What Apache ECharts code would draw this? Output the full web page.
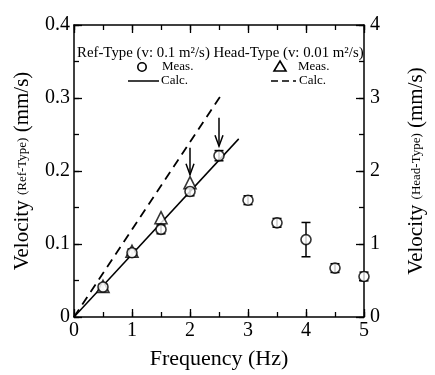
<!DOCTYPE html>
<html>
<head>
<meta charset="utf-8">
<script src="https://cdn.jsdelivr.net/npm/echarts@6/dist/echarts.min.js"></script>
<style>
html,body{margin:0;padding:0;background:#fff;}
#c{width:435px;height:375px;}
</style>
</head>
<body>
<div id="c"></div>
<script>
// Ref-Type measured velocity (left axis, mm/s) with error half-widths
const freq = [0.5, 1, 1.5, 2, 2.5, 3, 3.5, 4, 4.5, 5];
const refVel = [0.041, 0.088, 0.120, 0.172, 0.221, 0.160, 0.129, 0.106, 0.067, 0.0555];
const refErr = [0.004, 0.005, 0.006, 0.006, 0.007, 0.006, 0.006, 0.0235, 0.006, 0.006];

// Head-Type measured velocity (right axis, mm/s)
const headFreq = [0.5, 1, 1.5, 2];
const headVel = [0.42, 0.90, 1.36, 1.84];

// Calculated lines
const refCalc = [[0, 0], [2.84, 0.244]];
const headCalc = [[0, 0], [2.52, 3.02]];

// Arrows marking the measured points (left-axis units)
const arrowX = [2, 2.5];
const arrowFrom = [0.232, 0.273];
const arrowTo = [0.195, 0.234];

// Axis tick labels
const xTicks = [0, 1, 2, 3, 4, 5];
const yLeftTicks = [0, 0.1, 0.2, 0.3, 0.4];
const yRightTicks = [0, 1, 2, 3, 4];

const FONT = '"Liberation Serif", "DejaVu Serif", serif';
const chart = echarts.init(document.getElementById('c'), null, {renderer: 'canvas'});

const errData = freq.map((f, i) => [f, refVel[i] - refErr[i], refVel[i] + refErr[i]]);
const arrowData = arrowX.map((x, i) => [x, arrowFrom[i], arrowTo[i]]);

const axisLine = {onZero: false, lineStyle: {color: '#000', width: 1.5}};
const majorTick = {inside: true, length: 8, lineStyle: {color: '#000', width: 1.3}};
const minorTickAx = {inside: true, length: 5, lineStyle: {color: '#000', width: 1.3}};

// Overlay axis that only draws the short inward ticks between labelled ones
function minorAxis(position, min, max, interval) {
  return {
    type: 'value', min: min, max: max, interval: interval, position: position,
    axisLine: {show: false, onZero: false}, axisTick: minorTickAx, axisLabel: {show: false},
    splitLine: {show: false}
  };
}

const yNameRich = {
  a: {fontFamily: FONT, fontSize: 21, color: '#000'},
  b: {fontFamily: FONT, fontSize: 13, color: '#000'}
};

const option = {
  animation: false,
  backgroundColor: '#fff',
  grid: {left: 74, right: 66, top: 25, bottom: 57, containLabel: false},
  xAxis: [{
    type: 'value', min: 0, max: 5, interval: 1, position: 'bottom',
    axisLine: axisLine, axisTick: majorTick, splitLine: {show: false},
    axisLabel: {color: '#000', fontFamily: FONT, fontSize: 20, margin: 4,
      formatter: v => xTicks.includes(v) ? String(v) : ''},
    name: 'Frequency (Hz)', nameLocation: 'middle', nameGap: 31,
    nameTextStyle: {color: '#000', fontFamily: FONT, fontSize: 22}
  }, {
    type: 'value', min: 0, max: 5, interval: 1, position: 'top',
    axisLine: axisLine, axisTick: majorTick, splitLine: {show: false}, axisLabel: {show: false}
  },
    minorAxis('bottom', 0, 5, 0.5),
    minorAxis('top', 0, 5, 0.5)
  ],
  yAxis: [{
    type: 'value', min: 0, max: 0.4, interval: 0.1, position: 'left',
    axisLine: axisLine, axisTick: majorTick, splitLine: {show: false},
    axisLabel: {color: '#000', fontFamily: FONT, fontSize: 20, margin: 4,
      formatter: v => {
        const t = yLeftTicks.find(k => Math.abs(k - v) < 1e-9);
        return t === undefined ? '' : (t === 0 ? '0' : t.toFixed(1));
      }},
    name: '{a|Velocity }{b|(Ref-Type)}{a| (mm/s)}', nameLocation: 'middle', nameGap: 41, nameRotate: 90,
    nameTextStyle: {color: '#000', fontFamily: FONT, rich: yNameRich}
  }, {
    type: 'value', min: 0, max: 4, interval: 1, position: 'right',
    axisLine: axisLine, axisTick: majorTick, splitLine: {show: false},
    axisLabel: {color: '#000', fontFamily: FONT, fontSize: 20, margin: 6,
      formatter: v => yRightTicks.includes(v) ? String(v) : ''},
    name: '{a|Velocity }{b|(Head-Type)}{a| (mm/s)}', nameLocation: 'middle', nameGap: 42, nameRotate: 90,
    nameTextStyle: {color: '#000', fontFamily: FONT, rich: yNameRich}
  },
    minorAxis('left', 0, 0.4, 0.05),
    minorAxis('right', 0, 4, 0.5)
  ],
  series: [{
    name: 'Ref Calc', type: 'line', xAxisIndex: 0, yAxisIndex: 0, data: refCalc,
    showSymbol: false, symbol: 'none', lineStyle: {color: '#000', width: 1.5}, z: 2
  }, {
    name: 'Head Calc', type: 'line', xAxisIndex: 0, yAxisIndex: 1, data: headCalc,
    showSymbol: false, symbol: 'none', lineStyle: {color: '#000', width: 1.8, type: [9, 6]}, z: 2
  }, {
    name: 'Ref Err', type: 'custom', xAxisIndex: 0, yAxisIndex: 0, data: errData, z: 3,
    renderItem: (params, api) => {
      const x = api.value(0);
      const lo = api.coord([x, api.value(1)]);
      const hi = api.coord([x, api.value(2)]);
      const w = 4.5;
      const st = {stroke: '#000', lineWidth: 1.5};
      return {type: 'group', children: [
        {type: 'line', shape: {x1: lo[0], y1: lo[1], x2: hi[0], y2: hi[1]}, style: st},
        {type: 'line', shape: {x1: lo[0] - w, y1: lo[1], x2: lo[0] + w, y2: lo[1]}, style: st},
        {type: 'line', shape: {x1: hi[0] - w, y1: hi[1], x2: hi[0] + w, y2: hi[1]}, style: st}
      ]};
    }
  }, {
    name: 'Head Meas', type: 'scatter', xAxisIndex: 0, yAxisIndex: 1,
    data: headFreq.map((f, i) => [f, headVel[i]]),
    symbol: 'triangle', symbolSize: 12,
    itemStyle: {color: '#fff', borderColor: '#000', borderWidth: 1.6}, z: 4
  }, {
    name: 'Ref Meas', type: 'scatter', xAxisIndex: 0, yAxisIndex: 0,
    data: freq.map((f, i) => [f, refVel[i]]),
    symbol: 'circle', symbolSize: 10,
    itemStyle: {color: '#fff', borderColor: '#000', borderWidth: 1.6}, z: 5
  }, {
    name: 'Arrows', type: 'custom', xAxisIndex: 0, yAxisIndex: 0, data: arrowData, z: 6,
    renderItem: (params, api) => {
      const x = api.value(0);
      const a = api.coord([x, api.value(1)]);
      const b = api.coord([x, api.value(2)]);
      const st = {stroke: '#000', lineWidth: 1.5};
      return {type: 'group', children: [
        {type: 'line', shape: {x1: a[0], y1: a[1], x2: b[0], y2: b[1]}, style: st},
        {type: 'polyline', shape: {points: [[b[0] - 4, b[1] - 11], [b[0], b[1]], [b[0] + 4, b[1] - 11]]}, style: {stroke: '#000', lineWidth: 1.5, fill: null}}
      ]};
    }
  }],
  graphic: [
    {type: 'text', x: 77, y: 46, scaleX: 1.06, z: 10,
      style: {text: 'Ref-Type (v: 0.1 m²/s) Head-Type (v: 0.01 m²/s)', font: '14px ' + FONT, fill: '#000'}},
    {type: 'circle', shape: {cx: 142, cy: 67, r: 4.2}, style: {fill: '#fff', stroke: '#000', lineWidth: 1.6}, z: 10},
    {type: 'text', x: 162, y: 60, z: 10, style: {text: 'Meas.', font: '13px ' + FONT, fill: '#000'}},
    {type: 'polygon', shape: {points: [[280, 61], [286, 71], [274, 71]]}, style: {fill: '#fff', stroke: '#000', lineWidth: 1.6}, z: 10},
    {type: 'text', x: 298, y: 60, z: 10, style: {text: 'Meas.', font: '13px ' + FONT, fill: '#000'}},
    {type: 'line', shape: {x1: 128, y1: 81, x2: 159, y2: 81}, style: {stroke: '#000', lineWidth: 1.5}, z: 10},
    {type: 'text', x: 161, y: 74, z: 10, style: {text: 'Calc.', font: '13px ' + FONT, fill: '#000'}},
    {type: 'line', shape: {x1: 271, y1: 81, x2: 296, y2: 81}, style: {stroke: '#000', lineWidth: 1.5, lineDash: [7, 4]}, z: 10},
    {type: 'text', x: 299, y: 74, z: 10, style: {text: 'Calc.', font: '13px ' + FONT, fill: '#000'}}
  ]
};
chart.setOption(option);
</script>
</body>
</html>
